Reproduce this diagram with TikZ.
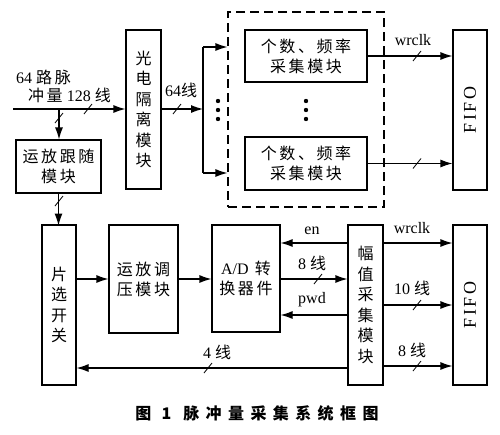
\documentclass[tikz,border=0pt]{standalone}
\usepackage{fontspec}
\setmainfont{Liberation Serif}
\newfontfamily\cjk[LetterSpace=16]{Noto Sans CJK SC}
\newfontfamily\cjkv{Noto Sans CJK SC}
\newfontfamily\fifofont[LetterSpace=14]{Liberation Serif}
\newfontfamily\capfont[LetterSpace=40]{Noto Sans CJK SC}
\usetikzlibrary{arrows.meta}
% 总线标记（斜杠）
\newcommand\busslash[2]{\draw[line width=0.8pt] (#1-4,#2+5) -- (#1+4,#2-5);}
\tikzset{
  block/.style={draw, line width=1.1pt, inner sep=0pt, align=center,
    font=\cjk\fontsize{16}{20}\selectfont},
  vblock/.style={block, font=\cjkv\fontsize{16}{20.5}\selectfont},
  sigline/.style={line width=1.1pt, -{Latex[length=12pt,width=8pt]}},
  wirelabel/.style={inner sep=0pt, font=\fontsize{16}{18}\selectfont},
}
\begin{document}
\begin{tikzpicture}[x=1pt,y=-1pt]
    \useasboundingbox (0,0) rectangle (500,434);

    % 上半部分：计数通道
    \coordinate (src) at (13,109);
    \coordinate (tap) at (59,109);
    \coordinate (fork) at (203,109);

    \node[vblock, minimum width=35pt, minimum height=159pt] (opto) at (143.5,109.5) {光\\电\\隔\\离\\模\\块};
    \node[block, minimum width=85pt, minimum height=53pt] (follow) at (58.5,166.5) {运放跟随\\模块};
    \node[draw, line width=1.1pt, dash pattern=on 9pt off 5pt, minimum width=156pt, minimum height=195pt] (grp) at (306,109.5) {};
    \node[block, minimum width=122pt, minimum height=52pt] (cntA) at (306,56) {个数、频率\\采集模块};
    \node[block, minimum width=122pt, minimum height=53pt] (cntB) at (306,163.5) {个数、频率\\采集模块};
    \node[draw, line width=1.1pt, minimum width=34pt, minimum height=160pt] (fifoA) at (470,110) {};
    \node[rotate=90, font=\fifofont\fontsize{18}{18}\selectfont] (fifoAtxt) at (fifoA) {FIFO};

    % 输入与分支
    \node[wirelabel, anchor=west] (inA) at (16,77) {64 {\cjk 路脉}};
    \node[wirelabel, anchor=west] (inB) at (28,95) {{\cjk 冲量} 128 {\cjk 线}};
    \draw[sigline] (src) -- (opto.west |- src);
    \busslash{88}{109}
    \draw[sigline] (tap) -- (tap |- follow.north);
    \busslash{59}{118}
    \draw[sigline] (follow.south) -- ++(0,32) coordinate (selin);
    \busslash{59}{201}

    \draw[sigline] (opto.east |- fork) -- (fork);
    \busslash{177}{109}
    \node[wirelabel] (w64) at (181,90) {64{\cjk 线}};
    \draw[line width=1.1pt] (fork |- 0,47) -- (fork |- 0,173);
    \draw[sigline] (fork |- 0,47) -- (grp.west |- 0,47);
    \draw[sigline] (fork |- 0,173) -- (grp.west |- 0,173);
    \foreach \y in {101,110,119} {
        \fill (218,\y) circle (2.2pt);
        \fill (306,\y) circle (2.2pt);
    }

    \draw[sigline] (cntA.east) -- (cntA.east -| fifoA.west);
    \busslash{417}{56}
    \node[wirelabel] (clkA) at (413,40) {wrclk};
    \draw[sigline] (cntB.east) -- (cntB.east -| fifoA.west);
    \busslash{417}{163.5}

    % 下半部分：幅值通道
    \node[vblock, minimum width=34pt, minimum height=160pt] (sel) at (59,305) {片\\选\\开\\关};
    \node[block, minimum width=69pt, minimum height=108pt] (amp) at (143.5,279) {运放调\\压模块};
    \node[block, minimum width=68pt, minimum height=107pt] (adc) at (246,278.5) {{\fontspec{Liberation Serif}\fontsize{16}{20}\selectfont A/D} 转\\换器件};
    \node[vblock, minimum width=35pt, minimum height=160pt] (ampc) at (365.5,305) {幅\\值\\采\\集\\模\\块};
    \node[draw, line width=1.1pt, minimum width=34pt, minimum height=160pt] (fifoB) at (470,305) {};
    \node[rotate=90, font=\fifofont\fontsize{18}{18}\selectfont] (fifoBtxt) at (fifoB) {FIFO};

    \draw[sigline] (sel.east |- amp.west) -- (amp.west);
    \draw[sigline] (amp.east) -- (adc.west |- amp.east);

    \draw[sigline] (ampc.west |- 0,243) -- (adc.east |- 0,243);
    \node[wirelabel] (en) at (312,231) {en};
    \draw[sigline] (adc.east |- 0,279) -- (ampc.west |- 0,279);
    \busslash{318}{279}
    \node[wirelabel] (d8) at (312,263) {8 {\cjk 线}};
    \draw[sigline] (ampc.west |- 0,315) -- (adc.east |- 0,315);
    \node[wirelabel] (pwd) at (312,300) {pwd};
    \draw[sigline] (ampc.west |- 0,368) -- (sel.east |- 0,368);
    \busslash{208}{368}
    \node[wirelabel] (c4) at (217,352) {4 {\cjk 线}};

    \draw[sigline] (ampc.east |- 0,243) -- (fifoB.west |- 0,243);
    \node[wirelabel] (clkB) at (412,228) {wrclk};
    \draw[sigline] (ampc.east |- 0,305) -- (fifoB.west |- 0,305);
    \busslash{417}{305}
    \node[wirelabel] (d10) at (412,288) {10 {\cjk 线}};
    \draw[sigline] (ampc.east |- 0,366) -- (fifoB.west |- 0,366);
    \busslash{417}{366}
    \node[wirelabel] (d8b) at (412,350) {8 {\cjk 线}};

    % 图题
    \node[font=\capfont\bfseries\fontsize{16}{16}\selectfont] (cap) at (257,413) {图 1\hspace{12pt}脉冲量采集系统框图};
\end{tikzpicture}
\end{document}
